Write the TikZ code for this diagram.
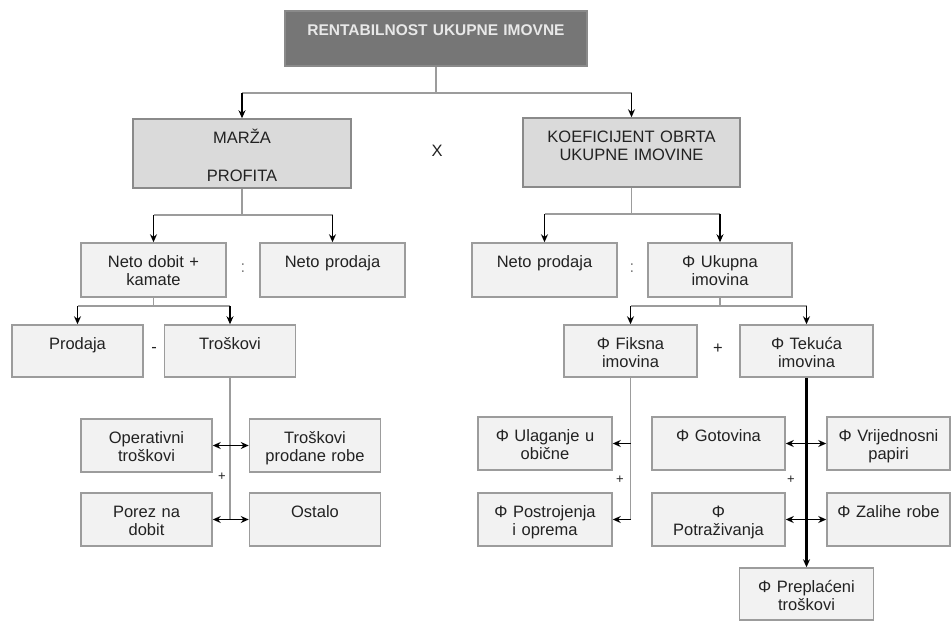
\documentclass[tikz,border=0pt]{standalone}
\usepackage{fontspec}
\setmainfont{Liberation Sans}
\usetikzlibrary{arrows.meta}

\definecolor{edgegray}{HTML}{9C9C9C}
\definecolor{boxfill}{HTML}{F2F2F2}
\definecolor{midfill}{HTML}{DADADA}
\definecolor{midedge}{HTML}{8A8A8A}
\definecolor{topfill}{HTML}{767676}
\definecolor{toptext}{HTML}{E8E8E8}
\definecolor{textgray}{HTML}{222222}

\begin{document}
\begin{tikzpicture}[x=1pt,y=-1pt,
    box/.style={draw=edgegray, fill=boxfill, line width=1.5pt, align=center,
      inner xsep=0pt, inner ysep=4pt, text height=20pt, text=textgray,
      font=\fontsize{16.5}{18}\selectfont},
    upper/.style={box, text width=145pt, text depth=26pt},
    middle/.style={box, text width=131pt, text depth=24pt},
    lower/.style={box, text width=131pt, text depth=25pt},
    link/.style={draw=edgegray, line width=1.3pt},
    arr/.style={-{Stealth[length=8pt,width=7pt]}, line width=1.8pt},
    both/.style={{Stealth[length=8pt,width=7pt]}-{Stealth[length=8pt,width=7pt]}, line width=1.8pt},
    sign/.style={text=textgray, font=\fontsize{16.5}{18}\selectfont}]

  \useasboundingbox (0,0) rectangle (952,621);

  % top and second level
  \node[box, fill=topfill, draw=midedge, text=toptext, text width=302pt, text depth=27pt,
    font=\bfseries\fontsize{15.5}{18}\selectfont] (rui) at (436,38.5) {RENTABILNOST UKUPNE IMOVNE};
  \node[box, fill=midfill, draw=midedge, text width=218pt, text depth=41pt] (marza) at (242,153.5) {MARŽA\\[20pt]PROFITA};
  \node[box, fill=midfill, draw=midedge, text width=217pt, text depth=41pt] (koef) at (631.5,152.5) {KOEFICIJENT OBRTA\\UKUPNE IMOVINE};
  \node[sign] (puta) at (437,151) {X};

  % third level
  \node[upper] (ndk) at (153.5,270) {Neto dobit +\\kamate};
  \node[upper] (np1) at (332.5,270) {Neto prodaja};
  \node[upper] (np2) at (544.5,270) {Neto prodaja};
  \node[upper, text width=144pt] (uim) at (720,270) {Φ Ukupna\\imovina};
  \node[sign, text=gray] (div1) at (243,268) {:};
  \node[sign, text=gray] (div2) at (632,268) {:};

  % fourth level
  \node[middle] (prod) at (77.5,351) {Prodaja};
  \node[middle] (tros) at (230,351) {Troškovi};
  \node[middle, text width=133pt] (fiks) at (630.5,351) {Φ Fiksna\\imovina};
  \node[middle, text width=133pt] (tek) at (806.5,351) {Φ Tekuća\\imovina};
  \node[sign] (minus) at (154,350) {-};
  \node[sign] (plus1) at (718,349) {+};

  % lowest level
  \node[lower] (oper) at (146.5,445.5) {Operativni\\troškovi};
  \node[lower] (tpr) at (315,445.5) {Troškovi\\prodane robe};
  \node[lower] (porez) at (146.5,519.5) {Porez na\\dobit};
  \node[lower] (ostalo) at (315,519.5) {Ostalo};
  \node[lower, text width=134pt] (ulag) at (545,443.5) {Φ Ulaganje u\\obične};
  \node[lower, text width=134pt] (postr) at (545,519.5) {Φ Postrojenja\\i oprema};
  \node[lower, text width=133pt] (got) at (718.5,443.5) {Φ Gotovina};
  \node[lower, text width=133pt] (pot) at (718.5,519.5) {Φ\\Potraživanja};
  \node[lower, text width=123pt] (vrij) at (888.5,443.5) {Φ Vrijednosni\\papiri};
  \node[lower, text width=123pt] (zal) at (888.5,519.5) {Φ Zalihe robe};
  \node[middle, text width=134pt] (prep) at (806.5,594) {Φ Preplaćeni\\troškovi};
  \node[sign, font=\fontsize{13}{15}\selectfont] (plus2) at (222,477) {+};
  \node[sign, font=\fontsize{13}{15}\selectfont] (plus3) at (620,480) {+};
  \node[sign, font=\fontsize{13}{15}\selectfont] (plus4) at (791,480) {+};

  % connectors
  \coordinate (j1) at (436,93);
  \draw[link] (rui) -- (j1);
  \draw[link] (marza |- j1) -- (koef |- j1);
  \draw[arr] (marza |- j1) -- (marza);
  \draw[arr] (koef |- j1) -- (koef);

  \coordinate (j2) at (242,215);
  \draw[link] (marza) -- (j2);
  \draw[link] (ndk |- j2) -- (np1 |- j2);
  \draw[arr] (ndk |- j2) -- (ndk);
  \draw[arr] (np1 |- j2) -- (np1);

  \coordinate (j3) at (631.5,214);
  \draw[link] (koef) -- (j3);
  \draw[link] (np2 |- j3) -- (uim |- j3);
  \draw[arr] (np2 |- j3) -- (np2);
  \draw[arr] (uim |- j3) -- (uim);

  \coordinate (j4) at (153.5,306);
  \draw[link] (ndk) -- (j4);
  \draw[link] (prod |- j4) -- (tros |- j4);
  \draw[arr] (prod |- j4) -- (prod);
  \draw[arr] (tros |- j4) -- (tros);

  \coordinate (j5) at (720,306);
  \draw[link] (uim) -- (j5);
  \draw[link] (fiks |- j5) -- (tek |- j5);
  \draw[arr] (fiks |- j5) -- (fiks);
  \draw[arr] (tek |- j5) -- (tek);

  \draw[link] (tros) -- (tros |- porez);
  \draw[both] (oper) -- (tpr);
  \draw[both] (porez) -- (ostalo);

  \draw[link] (fiks) -- (fiks |- postr);
  \draw[arr] (fiks |- ulag) -- (ulag);
  \draw[arr] (fiks |- postr) -- (postr);

  \draw[arr, line width=2.2pt] (tek) -- (prep);
  \draw[both] (got) -- (vrij);
  \draw[both] (pot) -- (zal);
\end{tikzpicture}
\end{document}
